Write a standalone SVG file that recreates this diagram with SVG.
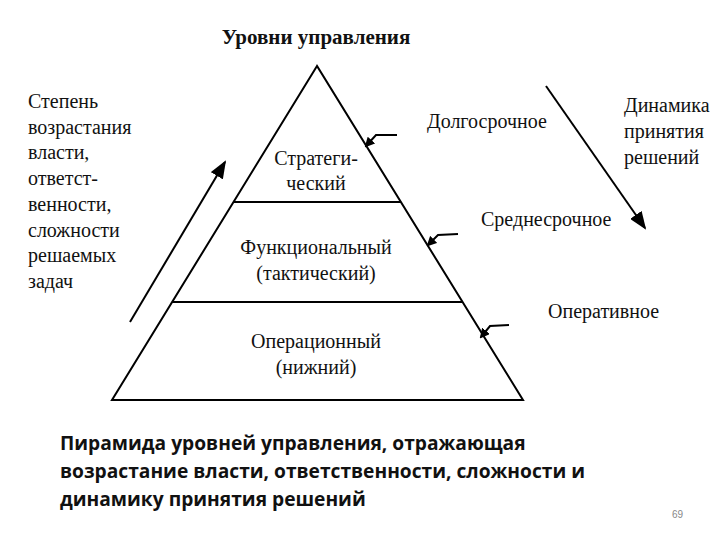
<svg xmlns="http://www.w3.org/2000/svg" width="720" height="540" viewBox="0 0 720 540">
<defs>
<style>
text.s{font-family:'Liberation Serif','Times New Roman','DejaVu Serif',serif;font-size:20px;fill:#111}
.c{text-anchor:middle}
.ln{stroke:#000;stroke-width:2;fill:none}
text.cap{font-family:'Open Sans','Noto Sans',sans-serif;font-weight:bold;font-size:19.2px;fill:#111}
</style>
<marker id="a" markerWidth="10" markerHeight="10" refX="8" refY="5" orient="auto" markerUnits="userSpaceOnUse"><path d="M0,0 L10,5 L0,10 Z" fill="#000"/></marker>
<marker id="b" markerWidth="18" markerHeight="14" refX="16" refY="7" orient="auto" markerUnits="userSpaceOnUse"><path d="M0,0 L18,7 L0,14 Z" fill="#000"/></marker>
</defs>
<rect width="720" height="540" fill="#fff"/>
<text x="316" y="44" class="s c" font-weight="bold" style="font-size:21px">Уровни управления</text>
<g id="pyramid">
<path class="ln" d="M317,66 L112,400 L523,400 Z"/>
<line class="ln" x1="234" y1="202" x2="401" y2="202"/>
<line class="ln" x1="172" y1="302" x2="462" y2="302"/>
</g>
<g id="n1"><text x="316" y="165" class="s c">Стратеги-</text><text x="316" y="190" class="s c">ческий</text></g>
<g id="n2"><text x="316" y="254" class="s c">Функциональный</text><text x="316" y="280" class="s c">(тактический)</text></g>
<g id="n3"><text x="316" y="348" class="s c">Операционный</text><text x="316" y="374" class="s c">(нижний)</text></g>
<g id="left"><text class="s" x="28" y="108">Степень</text><text class="s" x="28" y="134">возрастания</text><text class="s" x="28" y="159">власти,</text><text class="s" x="28" y="185">ответст-</text><text class="s" x="28" y="211">венности,</text><text class="s" x="28" y="237">сложности</text><text class="s" x="28" y="262">решаемых</text><text class="s" x="28" y="288">задач</text></g>
<g id="right"><text class="s" x="624" y="112">Динамика</text><text class="s" x="624" y="138">принятия</text><text class="s" x="624" y="164">решений</text></g>
<g id="terms"><text class="s" x="427" y="128">Долгосрочное</text><text class="s" x="481" y="226">Среднесрочное</text><text class="s" x="548" y="318">Оперативное</text></g>
<g id="connectors">
<line class="ln" x1="130" y1="322" x2="225" y2="162" marker-end="url(#b)"/>
<line class="ln" x1="546" y1="86" x2="645" y2="228" marker-end="url(#b)"/>
<path class="ln" d="M397,135 L376,135 L366,146" marker-end="url(#a)"/>
<path class="ln" d="M458,234 L438,235 L428,245" marker-end="url(#a)"/>
<path class="ln" d="M509,325 L490,326 L481,337" marker-end="url(#a)" stroke-width="3"/>
</g>
<text class="cap" x="60" y="450">Пирамида уровней управления, отражающая</text>
<text class="cap" x="60" y="478">возрастание власти, ответственности, сложности и</text>
<text class="cap" x="60" y="506">динамику принятия решений</text>
<text x="672" y="518" font-family="Liberation Sans,sans-serif" font-size="10" fill="#888">69</text>
</svg>
